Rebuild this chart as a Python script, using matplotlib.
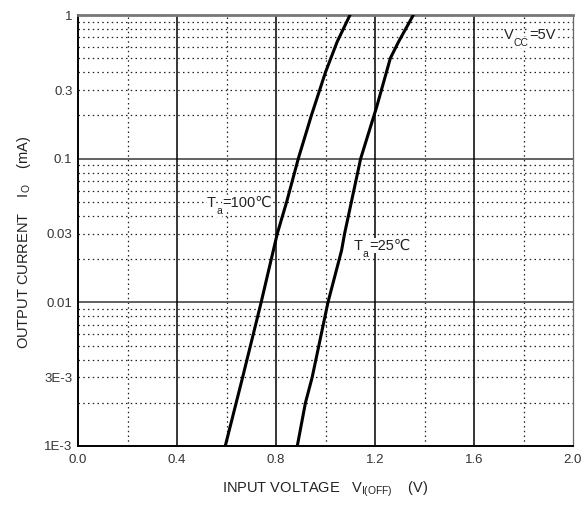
import matplotlib
matplotlib.use("Agg")
import matplotlib.pyplot as plt
from matplotlib.ticker import FixedLocator, NullLocator

plt.rcParams['font.family'] = ['Liberation Sans', 'DejaVu Sans']
plt.rcParams['mathtext.fontset'] = 'custom'
plt.rcParams['mathtext.rm'] = 'Liberation Sans'
plt.rcParams['mathtext.it'] = 'Liberation Sans'

# data
v_100 = [0.595, 0.665, 0.740, 0.805, 0.843, 0.890, 0.943, 1.000, 1.047, 1.099]
i_100 = [1e-3, 3e-3, 0.01, 0.03, 0.05, 0.1, 0.2, 0.4, 0.65, 1.0]
v_25 = [0.886, 0.919, 0.946, 1.010, 1.065, 1.077, 1.142, 1.207, 1.262, 1.295, 1.355]
i_25 = [1e-3, 2e-3, 3e-3, 0.01, 0.023, 0.03, 0.1, 0.23, 0.5, 0.65, 1.0]

x_ticks = [0.0, 0.4, 0.8, 1.2, 1.6, 2.0]
x_tick_labels = ["0.0", "0.4", "0.8", "1.2", "1.6", "2.0"]
x_minor = [0.2, 0.6, 1.0, 1.4, 1.8]
y_ticks = [1e-3, 3e-3, 0.01, 0.03, 0.1, 0.3, 1]
y_tick_labels = ["1E-3", "3E-3", "0.01", "0.03", "0.1", "0.3", "1"]
decades = [1e-3, 1e-2, 1e-1]

# (x, y, main, subscript, rest)
labels = [
    (0.521, 0.0463, "T", "a", "=100℃"),
    (1.113, 0.0233, "T", "a", "=25℃"),
    (1.720, 0.686, "V", "CC", "=5V"),
]

fig = plt.figure(figsize=(5.87, 5.05), dpi=100)
ax = fig.add_axes([78 / 587, 1 - 446 / 505, 495 / 587, 431 / 505])
ax.set_yscale('log')
ax.set_xlim(0, 2.0)
ax.set_ylim(1e-3, 1)

# grid
dot = (0, (1.2, 2.6))
for d in decades:
    for k in range(2, 10):
        ax.axhline(d * k, color='#222222', lw=0.9, ls=dot, zorder=1)
for d in [0.1, 0.01]:
    ax.axhline(d, color='#555555', lw=1.3, zorder=1.5)
for x in x_minor:
    ax.axvline(x, color='#222222', lw=0.9, ls=dot, zorder=1)
for x in x_ticks[1:-1]:
    ax.axvline(x, color='black', lw=1.1, zorder=1.5)

ax.plot(v_100, i_100, color='black', lw=2.2, zorder=3)
ax.plot(v_25, i_25, color='black', lw=2.2, zorder=3)

box = dict(facecolor='white', edgecolor='none', pad=0.3)
for x, y, main, sub, rest in labels:
    t1 = ax.text(x, y, main, fontsize=10.5, color='#222222', ha='left',
                 va='baseline', bbox=box, zorder=4)
    t2 = ax.annotate(sub, xy=(1, 0), xycoords=t1, xytext=(0.2, 2.6), textcoords='offset points',
                     fontsize=7.5, color='#222222', ha='left', va='top',
                     bbox=box, zorder=4)
    ax.annotate(rest, xy=(1, 0), xycoords=(t2, t1), xytext=(0.2, 0), textcoords='offset points',
                fontsize=10.5, color='#222222', ha='left', va='bottom',
                bbox=box, zorder=4)

ax.xaxis.set_major_locator(FixedLocator(x_ticks))
ax.set_xticklabels(x_tick_labels)
ax.xaxis.set_minor_locator(NullLocator())
ax.yaxis.set_major_locator(FixedLocator(y_ticks))
ax.set_yticklabels(y_tick_labels)
ax.yaxis.set_minor_locator(NullLocator())
ax.tick_params(length=0, labelsize=9.5, colors='#333333', pad=4)
ax.tick_params(axis='x', pad=6)

for s in ['left', 'bottom']:
    ax.spines[s].set_color('black')
    ax.spines[s].set_linewidth(1.4)
ax.spines['top'].set_color('#777777')
ax.spines['top'].set_linewidth(2.0)
ax.spines['right'].set_color('#666666')
ax.spines['right'].set_linewidth(0.9)

ax.set_xlabel(r'INPUT VOLTAGE   V$_{\mathregular{I(OFF)}}$    (V)', fontsize=10.5, color='#222222')
ax.xaxis.set_label_coords(0.5, -0.078)
ax.set_ylabel(r'OUTPUT CURRENT    I$_{\mathregular{O}}$    (mA)', fontsize=10.5, color='#222222')
ax.yaxis.set_label_coords(-0.090, 0.472)

fig.savefig('out.png', dpi=100)
